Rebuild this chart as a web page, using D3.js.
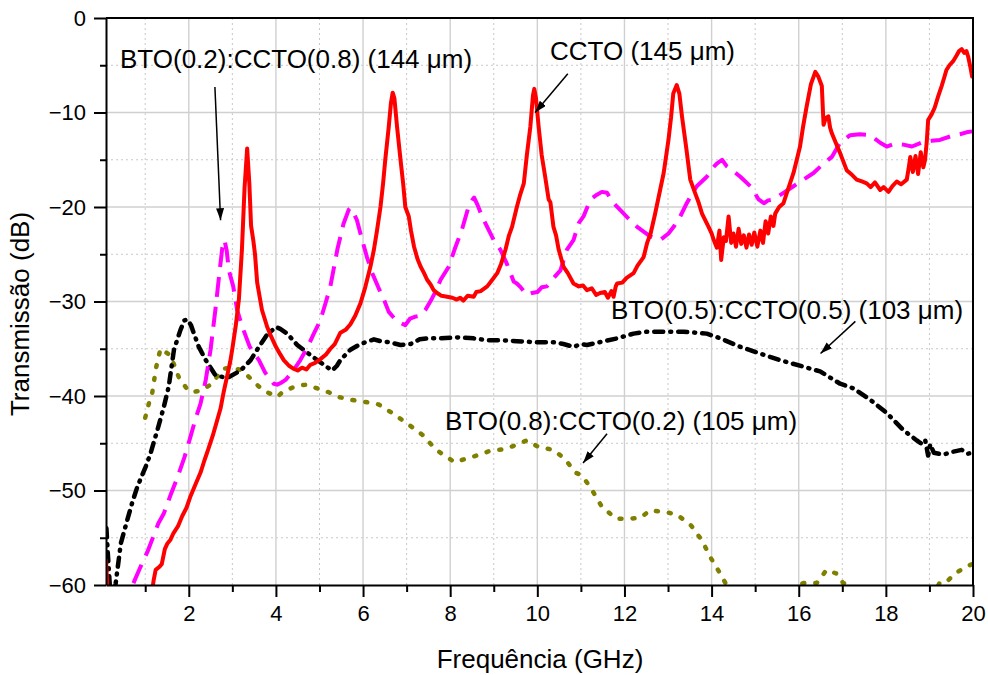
<!DOCTYPE html>
<html>
<head>
<meta charset="utf-8">
<script src="https://cdn.jsdelivr.net/npm/d3@7"></script>
<style>
  body { margin: 0; background: #fff; }
  svg { font-family: "Liberation Sans", Arial, sans-serif; }
</style>
</head>
<body>
<svg width="988" height="675"></svg>
<script>
var svg = d3.select('svg');

// tick values
var xMajor = [2, 4, 6, 8, 10, 12, 14, 16, 18, 20];
var xMinor = [1, 3, 5, 7, 9, 11, 13, 15, 17, 19];
var yMajor = [-60, -50, -40, -30, -20, -10, 0];
var yMinor = [-55, -45, -35, -25, -15, -5];

// CCTO (145 um) - [GHz, dB]
var ccto = [[0.1,-57.4],[0.14,-61],[1.15,-61],[1.19,-59.6],[1.24,-58.4],[1.32,-58.1],[1.38,-57.8],[1.45,-56.2],[1.51,-55.6],[1.58,-55.2],[1.65,-54.5],[1.75,-53.8],[1.85,-52.7],[1.95,-51.8],[2.04,-50.6],[2.15,-49.4],[2.27,-48.1],[2.36,-46.8],[2.45,-45.6],[2.55,-44.2],[2.65,-42.6],[2.73,-41.3],[2.8,-39.6],[2.88,-37.9],[2.95,-36.4],[3.0,-35.0],[3.08,-32.5],[3.15,-29.8],[3.22,-24.5],[3.28,-18],[3.34,-13.8],[3.39,-17.5],[3.43,-22.0],[3.48,-23.5],[3.52,-25.0],[3.57,-28.0],[3.68,-30.9],[3.8,-32.7],[3.9,-33.8],[4.0,-34.8],[4.1,-35.6],[4.18,-36.2],[4.3,-36.8],[4.4,-37.1],[4.5,-37.3],[4.6,-37.0],[4.7,-37.2],[4.79,-36.7],[4.9,-36.5],[5.02,-36.1],[5.15,-35.6],[5.25,-35.0],[5.35,-34.5],[5.48,-33.3],[5.6,-33.0],[5.71,-32.4],[5.82,-31.5],[5.94,-30.2],[6.05,-28.5],[6.17,-26.3],[6.25,-24.5],[6.32,-22.5],[6.4,-20.0],[6.46,-17.5],[6.51,-15.0],[6.59,-11.5],[6.64,-9.0],[6.68,-7.9],[6.72,-8.5],[6.78,-11.5],[6.86,-15.0],[6.92,-17.5],[6.97,-20.0],[7.05,-21.0],[7.1,-22.5],[7.17,-24.2],[7.25,-25.5],[7.32,-26.3],[7.4,-27.0],[7.47,-27.7],[7.55,-28.2],[7.62,-28.8],[7.7,-29.1],[7.8,-29.4],[7.93,-29.5],[8.05,-29.6],[8.15,-29.8],[8.23,-29.6],[8.3,-29.9],[8.4,-29.4],[8.54,-29.5],[8.6,-29.0],[8.7,-28.9],[8.85,-28.4],[8.95,-27.8],[9.08,-27.0],[9.17,-26.0],[9.27,-24.5],[9.35,-23.0],[9.42,-22.1],[9.53,-20.0],[9.6,-18.8],[9.69,-17.5],[9.76,-14.5],[9.84,-11.5],[9.9,-8.2],[9.93,-7.5],[9.97,-8.5],[10.03,-11.5],[10.1,-14.5],[10.18,-16.8],[10.26,-19.2],[10.3,-19.5],[10.37,-22.1],[10.43,-23.0],[10.49,-24.5],[10.6,-26.3],[10.7,-27.0],[10.83,-28.1],[10.95,-28.4],[11.05,-28.3],[11.14,-28.8],[11.25,-28.6],[11.35,-29.3],[11.44,-29.1],[11.55,-29.0],[11.62,-29.6],[11.7,-28.9],[11.75,-29.5],[11.8,-28.4],[11.83,-28.1],[11.95,-28.0],[12.05,-27.5],[12.21,-27.0],[12.3,-26.2],[12.44,-25.3],[12.52,-23.8],[12.6,-22.8],[12.7,-20.8],[12.8,-18.6],[12.9,-16.4],[12.96,-14.5],[13.01,-12.9],[13.07,-10.5],[13.12,-8.0],[13.2,-7.1],[13.26,-8.0],[13.32,-10.4],[13.42,-13.8],[13.51,-17.1],[13.62,-18.5],[13.7,-19.5],[13.78,-20.7],[13.93,-22.1],[14.0,-22.8],[14.05,-23.5],[14.12,-24.3],[14.18,-22.5],[14.22,-25.6],[14.28,-23.2],[14.33,-23.6],[14.39,-21.0],[14.45,-23.8],[14.5,-22.8],[14.56,-24.2],[14.62,-22.3],[14.68,-23.9],[14.74,-23.0],[14.8,-24.3],[14.86,-22.9],[14.92,-24.0],[14.98,-22.7],[15.05,-24.2],[15.12,-22.5],[15.18,-23.8],[15.24,-21.5],[15.3,-22.8],[15.36,-21.0],[15.42,-22.0],[15.46,-20.7],[15.55,-20.0],[15.65,-19.6],[15.75,-18.2],[15.88,-16.4],[16.03,-13.6],[16.1,-11.5],[16.18,-9.4],[16.28,-7.0],[16.38,-5.7],[16.45,-6.2],[16.53,-7.2],[16.57,-11.3],[16.62,-10.6],[16.68,-10.4],[16.72,-11.6],[16.76,-12.2],[16.85,-13.2],[16.95,-14.3],[17.1,-16.1],[17.2,-16.5],[17.33,-17.1],[17.45,-17.3],[17.56,-17.5],[17.65,-17.9],[17.75,-17.4],[17.87,-18.2],[17.95,-17.9],[18.06,-18.4],[18.15,-17.8],[18.25,-17.3],[18.35,-17.6],[18.48,-17.1],[18.52,-16.0],[18.56,-14.7],[18.62,-16.3],[18.68,-14.6],[18.74,-16.5],[18.8,-14.2],[18.86,-15.8],[18.9,-15.0],[18.94,-13.0],[18.97,-10.8],[19.05,-10.2],[19.12,-9.5],[19.2,-8.3],[19.28,-7.2],[19.34,-6.3],[19.39,-5.5],[19.46,-5.0],[19.54,-4.6],[19.62,-4.0],[19.68,-3.5],[19.74,-3.3],[19.8,-3.7],[19.85,-3.5],[19.89,-4.1],[19.94,-5.2],[19.98,-6.2]];

// BTO(0.2):CCTO(0.8) (144 um)
var bto02 = [[0.73,-59.8],[0.89,-58.1],[1.05,-56.5],[1.2,-54.7],[1.3,-53.5],[1.43,-52.4],[1.58,-50.5],[1.74,-48.6],[1.9,-46.5],[2.04,-44.3],[2.15,-42.5],[2.27,-40.8],[2.39,-38.3],[2.5,-35.1],[2.61,-30.9],[2.71,-26.7],[2.77,-24.3],[2.82,-23.5],[2.87,-24.6],[2.92,-26.7],[3.02,-28.4],[3.11,-30.9],[3.23,-32.7],[3.4,-34.8],[3.61,-36.2],[3.75,-37.5],[3.88,-38.3],[3.95,-38.7],[4.03,-38.8],[4.12,-38.6],[4.22,-38.3],[4.4,-37.3],[4.56,-36.2],[4.72,-34.9],[4.87,-33.4],[5.02,-32.0],[5.15,-30.0],[5.25,-28.4],[5.41,-24.5],[5.55,-21.8],[5.67,-20.3],[5.72,-20.1],[5.78,-20.6],[5.86,-21.4],[5.98,-23.5],[6.09,-25.3],[6.21,-27.0],[6.35,-28.5],[6.48,-29.8],[6.59,-31.1],[6.78,-32.1],[6.97,-32.5],[7.08,-31.8],[7.2,-31.6],[7.32,-31.5],[7.43,-30.9],[7.58,-29.7],[7.68,-28.8],[7.78,-27.7],[7.97,-26.3],[8.1,-24.5],[8.27,-22.4],[8.42,-20.0],[8.5,-19.3],[8.55,-19.0],[8.63,-19.8],[8.73,-21.0],[8.88,-22.4],[9.0,-23.5],[9.15,-24.5],[9.3,-26.0],[9.46,-27.9],[9.53,-28.1],[9.62,-28.5],[9.75,-29.3],[9.88,-29.1],[10.0,-29.0],[10.1,-28.5],[10.22,-28.4],[10.34,-27.7],[10.53,-26.7],[10.68,-24.5],[10.83,-23.5],[10.95,-21.7],[11.06,-21.0],[11.22,-19.2],[11.37,-18.7],[11.48,-18.4],[11.6,-18.5],[11.75,-19.6],[11.94,-20.5],[12.13,-21.4],[12.29,-22.1],[12.44,-22.6],[12.59,-23.1],[12.82,-23.5],[13.01,-22.8],[13.13,-22.1],[13.28,-21.0],[13.43,-19.6],[13.55,-18.6],[13.66,-17.8],[13.89,-16.8],[14.0,-16.0],[14.12,-15.4],[14.24,-15.0],[14.35,-15.7],[14.5,-16.2],[14.66,-16.8],[14.89,-17.8],[15.08,-19.2],[15.2,-19.6],[15.3,-19.3],[15.42,-19.2],[15.65,-18.5],[15.88,-17.8],[16.11,-17.1],[16.34,-16.4],[16.57,-15.4],[16.76,-14.7],[16.95,-13.2],[17.18,-12.4],[17.4,-12.3],[17.64,-12.4],[17.87,-13.2],[18.02,-13.6],[18.2,-13.3],[18.4,-13.4],[18.6,-13.6],[18.86,-13.1],[19.05,-13.0],[19.24,-12.9],[19.5,-12.5],[19.7,-12.3],[19.85,-12.1],[19.98,-12.0]];

// BTO(0.5):CCTO(0.5) (103 um)
var bto05 = [[0.11,-54.0],[0.14,-56.5],[0.2,-61],[0.3,-60.5],[0.32,-59.9],[0.44,-55.6],[0.59,-53.1],[0.7,-51.3],[0.82,-49.6],[1.01,-47.5],[1.12,-46.1],[1.28,-43.6],[1.43,-41.1],[1.54,-39.0],[1.66,-35.1],[1.81,-33.0],[1.9,-32.0],[1.97,-31.9],[2.05,-32.5],[2.12,-33.4],[2.23,-34.8],[2.39,-36.2],[2.61,-37.8],[2.88,-38.1],[3.19,-37.3],[3.42,-36.2],[3.61,-34.8],[3.8,-33.5],[4.0,-32.7],[4.1,-32.9],[4.26,-33.4],[4.49,-34.6],[4.83,-35.8],[5.1,-36.7],[5.29,-37.3],[5.4,-36.8],[5.48,-36.2],[5.71,-35.1],[5.94,-34.5],[6.25,-34.0],[6.4,-34.2],[6.59,-34.3],[6.86,-34.6],[7.09,-34.5],[7.3,-34.0],[7.47,-33.9],[7.78,-33.9],[8.16,-33.8],[8.54,-33.9],[8.85,-34.1],[9.15,-34.1],[9.53,-34.2],[9.92,-34.3],[10.37,-34.3],[10.6,-34.5],[10.83,-34.8],[11.0,-34.5],[11.14,-34.6],[11.44,-34.3],[11.83,-33.9],[12.21,-33.4],[12.51,-33.2],[12.82,-33.2],[13.36,-33.2],[13.89,-33.4],[14.2,-33.9],[14.66,-34.8],[15.11,-35.5],[15.57,-36.2],[16.11,-36.9],[16.49,-37.4],[16.95,-38.7],[17.26,-39.2],[17.64,-40.4],[18.02,-41.8],[18.4,-43.6],[18.71,-44.7],[18.8,-45.0],[18.9,-44.6],[18.97,-46.3],[19.02,-45.1],[19.1,-46.0],[19.32,-46.2],[19.54,-45.9],[19.74,-45.7],[19.89,-46.1],[19.98,-46.0]];

// BTO(0.8):CCTO(0.2) (105 um)
var bto08 = [[1.0,-42.3],[1.1,-40.5],[1.16,-39.7],[1.25,-37.0],[1.35,-35.0],[1.58,-35.7],[1.77,-38.0],[1.95,-39.2],[2.08,-39.6],[2.3,-39.4],[2.5,-38.8],[2.8,-37.1],[3.0,-37.0],[3.23,-37.3],[3.45,-38.3],[3.61,-39.0],[3.8,-39.6],[4.03,-40.1],[4.15,-39.6],[4.33,-39.2],[4.5,-38.9],[4.72,-38.8],[4.95,-39.2],[5.21,-39.6],[5.44,-40.1],[5.71,-40.4],[6.02,-40.6],[6.36,-40.9],[6.67,-41.8],[7.01,-42.9],[7.36,-44.1],[7.68,-45.7],[8.1,-47.0],[8.54,-46.4],[8.92,-45.8],[9.27,-45.6],[9.5,-45.2],[9.76,-44.7],[10.03,-45.4],[10.37,-45.7],[10.64,-46.7],[10.87,-48.1],[11.02,-48.4],[11.21,-49.6],[11.48,-51.7],[11.81,-53.0],[12.06,-53.0],[12.36,-52.9],[12.59,-52.1],[12.94,-52.3],[13.19,-52.5],[13.53,-53.7],[13.78,-55.3],[13.99,-57.2],[14.16,-58.5],[14.33,-59.9],[14.5,-61.5],[15.0,-63],[15.6,-62],[16.02,-59.9],[16.11,-59.8],[16.41,-59.8],[16.64,-58.4],[16.87,-58.8],[17.02,-59.8],[17.18,-59.9],[17.3,-61],[18.2,-63],[19.1,-61],[19.23,-59.8],[19.36,-59.8],[19.59,-58.8],[19.82,-58.1],[19.98,-57.8]];

var series = [
  {data: bto08, color: '#808000', width: 4.5, dash: '2,11', cap: 'round'},
  {data: bto05, color: '#000000', width: 4.5, dash: '9,7,1,7', cap: 'round'},
  {data: bto02, color: '#ff00ff', width: 4, dash: '20,10', cap: 'butt'},
  {data: ccto, color: '#ff0000', width: 4, dash: null, cap: 'round'}
];

// Annotations: text, position of text, arrow start and end (in data units)
var notes = [
  {text: 'BTO(0.2):CCTO(0.8) (144 \u03bcm)', tx: 120, ty: 68, from: [2.6, -7.3], to: [2.73, -21.4]},
  {text: 'CCTO (145 \u03bcm)', tx: 550, ty: 60, from: [10.7, -5.9], to: [9.95, -10.0]},
  {text: 'BTO(0.5):CCTO(0.5) (103 \u03bcm)', tx: 611, ty: 319, from: [17.3, -32.1], to: [16.5, -35.5]},
  {text: 'BTO(0.8):CCTO(0.2) (105 \u03bcm)', tx: 445, ty: 430, from: [11.6, -44.0], to: [11.05, -47.1]}
];

var plotLeft = 106, plotRight = 973, plotTop = 18, plotBottom = 585;

var xScale = d3.scaleLinear().domain([0.1, 20]).range([plotLeft, plotRight]);
var yScale = d3.scaleLinear().domain([-60, 0]).range([plotBottom, plotTop]);

// grid
svg.append('g').selectAll('line').data(xMinor).enter().append('line')
   .attr('x1', d => xScale(d)).attr('x2', d => xScale(d))
   .attr('y1', plotTop).attr('y2', plotBottom)
   .attr('stroke', '#c8c8c8').attr('stroke-width', 1).attr('stroke-dasharray', '2,3');
svg.append('g').selectAll('line').data(yMinor).enter().append('line')
   .attr('x1', plotLeft).attr('x2', plotRight)
   .attr('y1', d => yScale(d)).attr('y2', d => yScale(d))
   .attr('stroke', '#c8c8c8').attr('stroke-width', 1).attr('stroke-dasharray', '2,3');
svg.append('g').selectAll('line').data(xMajor.slice(0, -1)).enter().append('line')
   .attr('x1', d => xScale(d)).attr('x2', d => xScale(d))
   .attr('y1', plotTop).attr('y2', plotBottom)
   .attr('stroke', '#d0d0d0').attr('stroke-width', 1.4);
svg.append('g').selectAll('line').data(yMajor.slice(1, -1)).enter().append('line')
   .attr('x1', plotLeft).attr('x2', plotRight)
   .attr('y1', d => yScale(d)).attr('y2', d => yScale(d))
   .attr('stroke', '#d0d0d0').attr('stroke-width', 1.4);

// curves
svg.append('clipPath').attr('id', 'plot')
   .append('rect').attr('x', plotLeft).attr('y', plotTop)
   .attr('width', plotRight - plotLeft).attr('height', plotBottom - plotTop);

var line = d3.line()
   .x(d => xScale(d[0]))
   .y(d => yScale(d[1]));

svg.append('g').attr('clip-path', 'url(#plot)')
   .selectAll('path').data(series).enter().append('path')
   .attr('d', d => line(d.data))
   .attr('fill', 'none')
   .attr('stroke', d => d.color)
   .attr('stroke-width', d => d.width)
   .attr('stroke-linejoin', 'round')
   .attr('stroke-linecap', d => d.cap)
   .attr('stroke-dasharray', d => d.dash);

// frame on top and right
svg.append('path')
   .attr('d', 'M' + plotLeft + ',' + plotTop + 'H' + plotRight + 'V' + plotBottom)
   .attr('fill', 'none').attr('stroke', '#000').attr('stroke-width', 2);

// axes
function styleAxis(g) {
   g.select('.domain').attr('stroke-width', 2);
   g.selectAll('.tick line').attr('stroke-width', 2);
   g.selectAll('.tick text')
    .style('font-size', '22px')
    .style('font-family', '"Liberation Sans", Arial, sans-serif')
    .attr('fill', '#000');
}

svg.append('g')
   .attr('transform', 'translate(0,' + plotBottom + ')')
   .call(d3.axisBottom(xScale).tickValues(xMinor).tickSize(7).tickFormat(''))
   .call(styleAxis)
   .select('.domain').remove();
svg.append('g')
   .attr('transform', 'translate(0,' + plotBottom + ')')
   .call(d3.axisBottom(xScale).tickValues(xMajor).tickSize(12).tickSizeOuter(0).tickPadding(8))
   .call(styleAxis);
svg.append('g')
   .attr('transform', 'translate(' + plotLeft + ',0)')
   .call(d3.axisLeft(yScale).tickValues(yMinor).tickSize(6).tickFormat(''))
   .call(styleAxis)
   .select('.domain').remove();
svg.append('g')
   .attr('transform', 'translate(' + plotLeft + ',0)')
   .call(d3.axisLeft(yScale).tickValues(yMajor).tickSize(12).tickSizeOuter(0).tickPadding(8))
   .call(styleAxis);

// axis titles
svg.append('text')
   .attr('x', 540).attr('y', 668)
   .attr('text-anchor', 'middle')
   .style('font-size', '26px')
   .text('Frequência (GHz)');
svg.append('text')
   .attr('transform', 'translate(29,314)rotate(-90)')
   .attr('text-anchor', 'middle')
   .style('font-size', '26px')
   .text('Transmissão (dB)');

// annotations
var defs = svg.append('defs');
defs.append('marker').attr('id', 'arrow')
   .attr('viewBox', '0 0 12 8').attr('refX', 12).attr('refY', 4)
   .attr('markerWidth', 12).attr('markerHeight', 8)
   .attr('markerUnits', 'userSpaceOnUse').attr('orient', 'auto')
   .append('path').attr('d', 'M0,0L12,4L0,8Z').attr('fill', '#000');

svg.append('g').selectAll('line').data(notes).enter().append('line')
   .attr('x1', d => xScale(d.from[0])).attr('y1', d => yScale(d.from[1]))
   .attr('x2', d => xScale(d.to[0])).attr('y2', d => yScale(d.to[1]))
   .attr('stroke', '#000').attr('stroke-width', 1.5)
   .attr('marker-end', 'url(#arrow)');

svg.append('g').selectAll('text').data(notes).enter().append('text')
   .attr('x', d => d.tx).attr('y', d => d.ty)
   .style('font-size', '26px')
   .text(d => d.text);
</script>
</body>
</html>
